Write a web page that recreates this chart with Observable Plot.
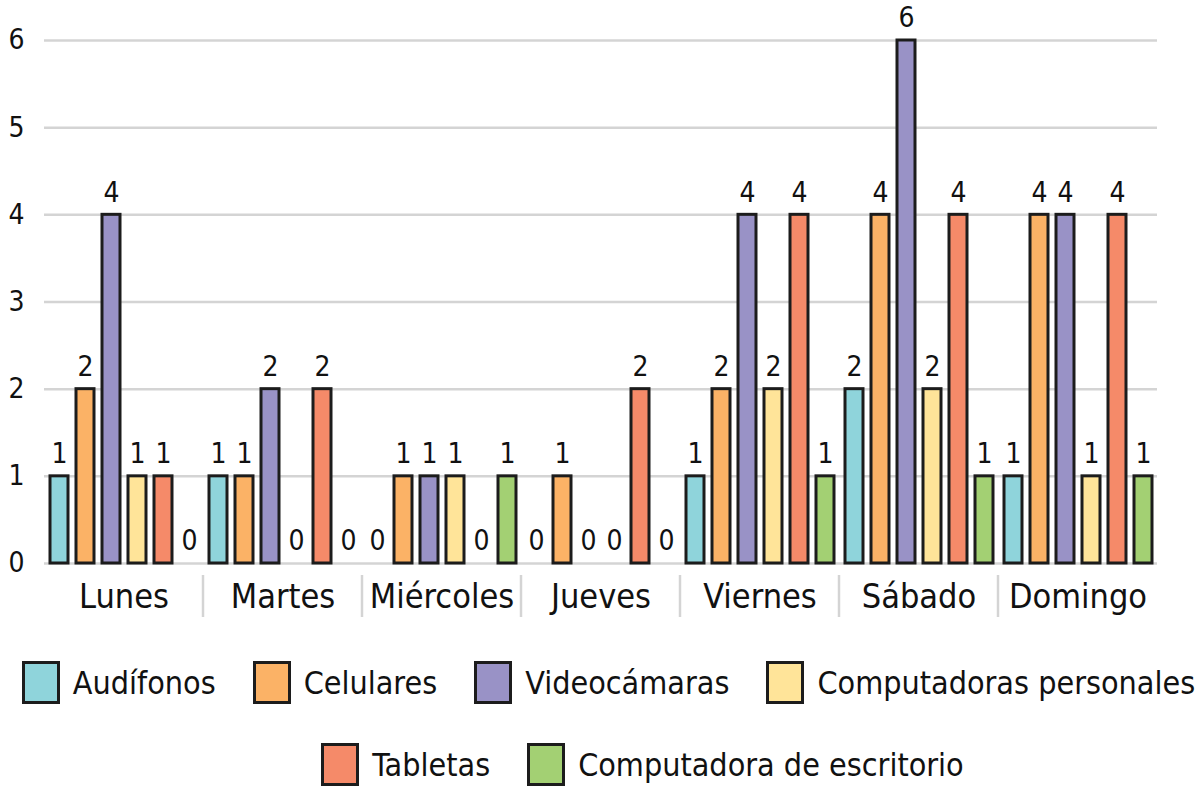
<!DOCTYPE html>
<html><head><meta charset="utf-8">
<script src="https://cdn.jsdelivr.net/npm/d3@7"></script>
<script src="https://cdn.jsdelivr.net/npm/@observablehq/plot@0.6"></script>
<style>
body{margin:0;background:#fff;font-family:"Liberation Sans Narrow","DejaVu Sans Condensed",sans-serif;color:#111;}
#chart{width:1201px;height:630px;}
#legend{width:1201px;}
.lrow{display:flex;justify-content:center;align-items:center;gap:37px;}
.lrow1{margin-top:31px;padding-left:16px;}
.lrow2{margin-top:39px;padding-left:84px;}
.item{display:flex;align-items:center;gap:13px;}
.sw{width:32px;height:37px;border:3px solid #1c1c1c;}
.lab{font-size:32px;line-height:1;}
</style></head><body>
<div id="chart"></div>
<div id="legend"></div>
<script>
const days = ["Lunes","Martes","Miércoles","Jueves","Viernes","Sábado","Domingo"];
const series = ["Audífonos","Celulares","Videocámaras","Computadoras personales","Tabletas","Computadora de escritorio"];
const colors = ["#8fd4db","#fbb266","#9992c6","#ffe499","#f58a69","#a3d073"];
const audifonos      = [1,1,0,0,1,2,1];
const celulares      = [2,1,1,1,2,4,4];
const videocamaras   = [4,2,1,0,4,6,4];
const compPersonales = [1,0,1,0,2,2,1];
const tabletas       = [1,2,0,2,4,4,4];
const compEscritorio = [0,0,1,0,1,1,1];
const yTicks = [0,1,2,3,4,5,6];
const legendRows = [[0,1,2,3],[4,5]];

const valuesBySeries = [audifonos, celulares, videocamaras, compPersonales, tabletas, compEscritorio];
const data = [];
days.forEach((day, i) => series.forEach((s, j) => data.push({day, series: s, value: valuesBySeries[j][i]})));

const font = '"Liberation Sans Narrow","DejaVu Sans Condensed",sans-serif';
const plot = Plot.plot({
  width: 1201, height: 630,
  marginLeft: 42, marginRight: 42, marginTop: 40, marginBottom: 67,
  style: {fontFamily: font, background: "white", color: "#111"},
  fx: {domain: days, padding: 0, label: null},
  x: {domain: series, paddingInner: 0.32, paddingOuter: 0.16, axis: null},
  y: {domain: [0, 6], axis: null},
  color: {domain: series, range: colors},
  marks: [
    Plot.ruleY(yTicks, {stroke: "#d4d4d4", strokeWidth: 2.5}),
    Plot.barY(data, {filter: d => d.value > 0, fx: "day", x: "series", y: "value", fill: "series", stroke: "#1c1c1c", strokeWidth: 3}),
    Plot.text(data, {fx: "day", x: "series", y: "value", text: d => String(d.value), dy: -22, fontSize: 28, fill: "#111"}),
    Plot.axisY(yTicks, {tickSize: 0, tickPadding: 20, fontSize: 28, label: null, tickFormat: d => String(d)}),
    Plot.axisFx({anchor: "bottom", tickSize: 0, tickPadding: 20, fontSize: 34, label: null})
  ]
});
document.getElementById("chart").appendChild(plot);

// group separators under the axis, placed with Plot's fx and y scales
const fx = plot.scale("fx"), y = plot.scale("y");
const y0 = y.apply(0);
d3.select(plot).append("g")
  .selectAll("line").data(days.slice(1)).join("line")
  .attr("x1", d => fx.apply(d)).attr("x2", d => fx.apply(d))
  .attr("y1", y0 + 12).attr("y2", y0 + 54)
  .attr("stroke", "#d4d4d4").attr("stroke-width", 2.5);

const legend = d3.select("#legend");
legendRows.forEach((row, r) => {
  const div = legend.append("div").attr("class", "lrow lrow" + (r + 1));
  row.forEach(i => {
    const it = div.append("div").attr("class", "item");
    it.append("div").attr("class", "sw").style("background", colors[i]);
    it.append("span").attr("class", "lab").text(series[i]);
  });
});
</script>
</body></html>
